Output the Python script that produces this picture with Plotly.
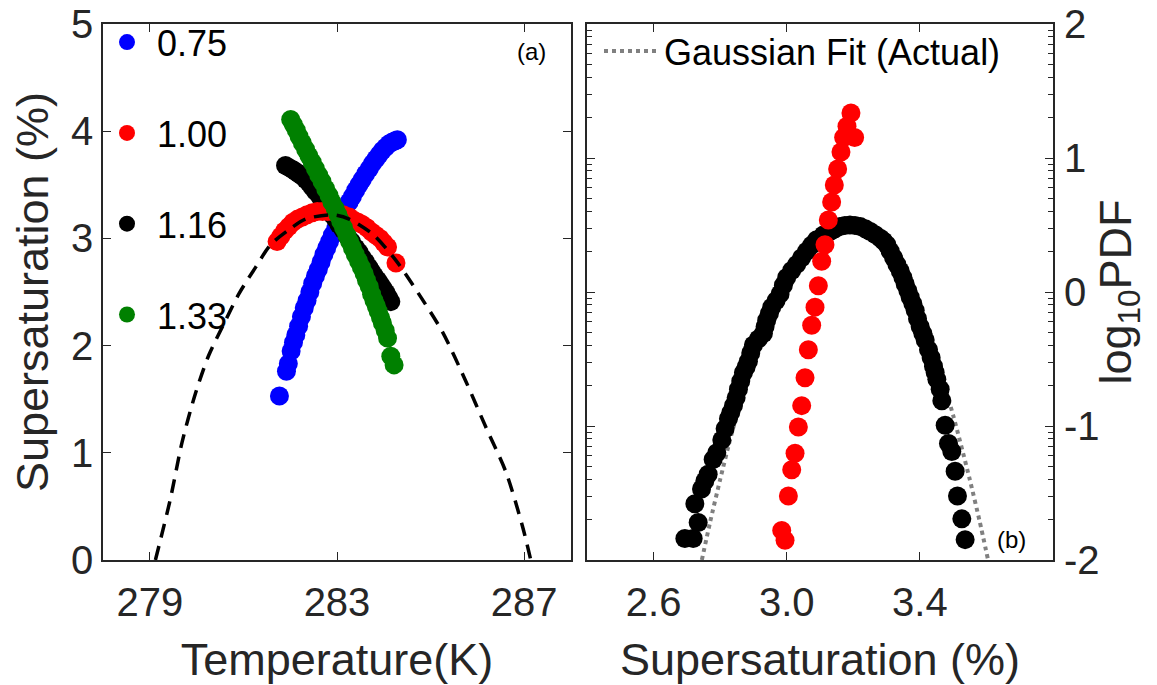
import plotly.graph_objects as go

# ---------------- data: panel (a) ----------------
labels_a = ["0.75", "1.00", "1.16", "1.33"]
colors_a = ["#0000FF", "#FF0000", "#000000", "#008000"]

T_075 = [281.77, 281.92, 281.96, 282.02, 282.07, 282.12, 282.18, 282.24, 282.30, 282.36,
         282.42, 282.48, 282.54, 282.60, 282.66, 282.72, 282.78, 282.84, 282.90, 282.97,
         283.04, 283.11, 283.18, 283.26, 283.33, 283.40, 283.47, 283.54, 283.61, 283.69,
         283.76, 283.83, 283.90, 283.97, 284.04, 284.11, 284.18, 284.24, 284.29]
S_075 = [1.53, 1.76, 1.83, 1.95, 2.03, 2.10, 2.18, 2.27, 2.35, 2.42,
         2.50, 2.58, 2.65, 2.71, 2.78, 2.85, 2.91, 2.97, 3.03, 3.09,
         3.15, 3.21, 3.27, 3.34, 3.39, 3.45, 3.50, 3.55, 3.60, 3.65,
         3.70, 3.74, 3.78, 3.82, 3.85, 3.88, 3.90, 3.91, 3.92]

T_100 = [281.72, 281.80, 281.88, 281.97, 282.06, 282.16, 282.26, 282.36, 282.47, 282.58,
         282.69, 282.80, 282.90, 283.01, 283.13, 283.26, 283.36, 283.45, 283.54, 283.64,
         283.74, 283.83, 283.92, 284.00, 284.08, 284.26]
S_100 = [2.97, 3.02, 3.07, 3.11, 3.15, 3.18, 3.20, 3.22, 3.24, 3.25,
         3.25, 3.25, 3.25, 3.24, 3.22, 3.20, 3.17, 3.15, 3.13, 3.10,
         3.06, 3.03, 3.00, 2.96, 2.92, 2.77]

T_116 = [281.90, 281.98, 282.06, 282.13, 282.19, 282.26, 282.33, 282.40, 282.47, 282.54,
         282.62, 282.69, 282.76, 282.83, 282.90, 282.97, 283.04, 283.13, 283.22, 283.31,
         283.40, 283.47, 283.54, 283.61, 283.68, 283.74, 283.80, 283.87, 283.93, 283.99,
         284.05, 284.10, 284.15]
S_116 = [3.68, 3.66, 3.64, 3.62, 3.60, 3.58, 3.55, 3.52, 3.48, 3.44,
         3.40, 3.36, 3.31, 3.27, 3.22, 3.18, 3.13, 3.08, 3.02, 2.97,
         2.91, 2.87, 2.82, 2.78, 2.73, 2.69, 2.65, 2.61, 2.57, 2.53,
         2.49, 2.45, 2.41]

T_133 = [282.01, 282.07, 282.13, 282.19, 282.26, 282.33, 282.40, 282.47, 282.54, 282.61,
         282.68, 282.76, 282.83, 282.89, 282.96, 283.02, 283.08, 283.14, 283.21, 283.27,
         283.33, 283.39, 283.46, 283.52, 283.58, 283.63, 283.69, 283.74, 283.79, 283.84,
         283.88, 283.93, 283.97, 284.03, 284.08, 284.15, 284.22]
S_133 = [4.11, 4.06, 4.01, 3.95, 3.89, 3.83, 3.77, 3.71, 3.65, 3.59,
         3.53, 3.46, 3.40, 3.34, 3.28, 3.22, 3.16, 3.10, 3.03, 2.97,
         2.91, 2.85, 2.79, 2.73, 2.67, 2.61, 2.55, 2.48, 2.42, 2.37,
         2.32, 2.26, 2.21, 2.14, 2.07, 1.90, 1.82]

T_dash = [279.12, 279.44, 279.69, 279.98, 280.26, 280.58, 280.90, 281.26, 281.58, 281.97,
          282.33, 282.90, 283.26, 283.76, 284.25, 284.75, 285.25, 285.75, 286.18, 286.61,
          286.96, 287.14]
S_dash = [0.00, 0.57, 1.10, 1.56, 1.91, 2.20, 2.48, 2.73, 2.94, 3.08,
          3.18, 3.22, 3.18, 3.04, 2.80, 2.48, 2.13, 1.67, 1.24, 0.82,
          0.32, 0.00]

# ---------------- data: panel (b) ----------------
ss_red = [3.193, 3.181, 3.204, 3.171, 3.163, 3.153, 3.143, 3.135, 3.125, 3.115,
          3.105, 3.095, 3.085, 3.075, 3.065, 3.055, 3.045, 3.035, 3.025, 3.015,
          3.005, 2.985, 2.995]
lp_red = [1.336, 1.237, 1.153, 1.153, 1.045, 0.918, 0.799, 0.671, 0.537, 0.353,
          0.230, 0.046, -0.113, -0.248, -0.431, -0.640, -0.848, -1.007, -1.204, -1.326,
          -1.522, -1.779, -1.853]

ss_blk = [2.694, 2.719, 2.734, 2.724, 2.744, 2.754, 2.764, 2.779, 2.790, 2.805,
          2.815, 2.825, 2.832, 2.840, 2.848, 2.855, 2.862, 2.870, 2.878, 2.885,
          2.892, 2.900, 2.915, 2.930, 2.935, 2.940, 2.948, 2.955, 2.968, 2.980,
          2.990, 3.000, 3.015, 3.030, 3.045, 3.060, 3.075, 3.090, 3.110, 3.130,
          3.145, 3.160, 3.175, 3.190, 3.205, 3.221, 3.236, 3.251, 3.266, 3.281,
          3.291, 3.301, 3.311, 3.321, 3.331, 3.341, 3.349, 3.356, 3.364, 3.371,
          3.379, 3.386, 3.393, 3.401, 3.409, 3.416, 3.426, 3.434, 3.441, 3.446,
          3.451, 3.461, 3.466, 3.476, 3.486, 3.496, 3.506, 3.513, 3.526, 3.536]
lp_blk = [-1.84, -1.84, -1.72, -1.58, -1.47, -1.41, -1.36, -1.25, -1.20, -1.105,
          -1.02, -0.946, -0.90, -0.848, -0.79, -0.726, -0.665, -0.603, -0.56, -0.517,
          -0.455, -0.395, -0.35, -0.309, -0.26, -0.211, -0.16, -0.113, -0.065, -0.015,
          0.05, 0.108, 0.16, 0.206, 0.256, 0.304, 0.35, 0.390, 0.425, 0.451,
          0.472, 0.488, 0.497, 0.500, 0.497, 0.488, 0.472, 0.451, 0.428, 0.402,
          0.38, 0.353, 0.305, 0.255, 0.205, 0.157, 0.108, 0.059, 0.01, -0.039,
          -0.088, -0.137, -0.20, -0.260, -0.31, -0.358, -0.431, -0.49, -0.554, -0.60,
          -0.652, -0.726, -0.811, -0.995, -1.130, -1.191, -1.338, -1.522, -1.693, -1.848]

ss_fit = [2.745, 2.77, 2.80, 2.83, 2.86, 2.90, 2.95, 3.00, 3.05, 3.10, 3.15,
          3.20, 3.25, 3.30, 3.35, 3.40, 3.45, 3.50, 3.55, 3.58, 3.605]
lp_fit = [-2.00, -1.715, -1.40, -1.10, -0.83, -0.51, -0.17, 0.10, 0.30, 0.44, 0.51,
          0.51, 0.44, 0.30, 0.10, -0.17, -0.51, -0.92, -1.40, -1.715, -2.00]

# ---------------- figure ----------------
FONT = "Liberation Sans, Arial, Helvetica, sans-serif"
AX = "#262626"
W, H = 1157, 685
ML, MR, MT, MB = 103, 104, 16, 125
PW = W - ML - MR
PH = H - MT - MB


def px_x(p):
    return (p - ML) / PW


def px_y(p):
    return 1 - (p - MT) / PH


fig = go.Figure()

series_a = [(T_075, S_075), (T_100, S_100), (T_116, S_116), (T_133, S_133)]
draw_order = [0, 2, 1, 3]
for i in draw_order:
    t, s = series_a[i]
    fig.add_trace(go.Scatter(
        x=t, y=s, mode="markers", name=labels_a[i],
        marker=dict(size=19, color=colors_a[i], line=dict(width=0)),
        xaxis="x", yaxis="y", legend="legend", legendgroup=labels_a[i],
        legendrank=i + 1,
    ))

fig.add_trace(go.Scatter(
    x=T_dash, y=S_dash, mode="lines",
    line=dict(color="black", width=3.5, dash="14px,9px", shape="spline", smoothing=0.8),
    showlegend=False, xaxis="x", yaxis="y",
))

# panel (b): log-scaled PDF axis (y2) with a linear log10 label axis (y3) overlaid
fig.add_trace(go.Scatter(
    x=ss_fit, y=[10 ** v for v in lp_fit], mode="lines", name="Gaussian Fit (Actual)",
    line=dict(color="#808080", width=4, dash="dot", shape="spline", smoothing=0.6),
    xaxis="x2", yaxis="y2", legend="legend2",
))
fig.add_trace(go.Scatter(
    x=ss_blk, y=[10 ** v for v in lp_blk], mode="markers", marker=dict(size=19, color="black"),
    showlegend=False, xaxis="x2", yaxis="y2",
))
fig.add_trace(go.Scatter(
    x=ss_red, y=lp_red, mode="markers", marker=dict(size=19, color="#FF0000"),
    showlegend=False, xaxis="x2", yaxis="y3",
))

axis_common = dict(showline=True, linecolor=AX, linewidth=1.6, ticks="inside",
                   tickcolor=AX, tickwidth=1.4, ticklen=8, mirror="ticks",
                   showgrid=False, zeroline=False, automargin=False,
                   ticklabeloverflow="allow",
                   tickfont=dict(family=FONT, size=40, color=AX))

fig.update_layout(
    width=W, height=H, autosize=False,
    margin=dict(l=ML, r=MR, t=MT, b=MB, pad=0),
    paper_bgcolor="white", plot_bgcolor="white",
    font=dict(family=FONT, color=AX),
    xaxis=dict(domain=[0, px_x(571)], range=[278, 288], tickvals=[279, 283, 287],
               ticklabelstandoff=6,
               title=dict(text="Temperature(K)", font=dict(size=45, color=AX), standoff=22),
               anchor="y", **axis_common),
    yaxis=dict(domain=[0, 1], range=[0, 5], tickvals=[0, 1, 2, 3, 4, 5],
               title=dict(text="Supersaturation (%)", font=dict(size=45, color=AX), standoff=8),
               anchor="x", **axis_common),
    xaxis2=dict(domain=[px_x(587), 1], range=[2.4, 3.8], tickvals=[2.6, 3.0, 3.4],
                ticktext=["2.6", "3.0", "3.4"], ticklabelstandoff=6,
                title=dict(text="Supersaturation (%)", font=dict(size=45, color=AX), standoff=22),
                anchor="y2", **axis_common),
    yaxis2=dict(domain=[0, 1], type="log", range=[-2, 2], anchor="x2",
                showline=True, linecolor=AX, linewidth=1.6, ticks="inside",
                tickcolor=AX, tickwidth=1.4, ticklen=8, mirror="allticks",
                showticklabels=False, showgrid=False, zeroline=False, dtick=1,
                automargin=False,
                minor=dict(ticks="inside", ticklen=5, tickcolor=AX, tickwidth=1.2,
                           dtick="D1", showgrid=False)),
    yaxis3=dict(domain=[0, 1], range=[-2, 2], overlaying="y2", side="right", anchor="x2",
                tickvals=[-2, -1, 0, 1, 2], ticktext=["-2", "-1", "0", "1", "2"],
                showline=False, ticks="", showgrid=False, zeroline=False,
                automargin=False, ticklabeloverflow="allow", ticklabelstandoff=10,
                tickfont=dict(family=FONT, size=40, color=AX),
                title=dict(text="log<sub>10</sub>PDF", font=dict(size=45, color=AX), standoff=0)),
    legend=dict(x=px_x(97), y=px_y(4), xanchor="left", yanchor="top",
                bgcolor="rgba(0,0,0,0)", borderwidth=0,
                font=dict(family=FONT, size=36, color="black"),
                tracegroupgap=41, itemsizing="trace", traceorder="grouped",
                itemwidth=50),
    legend2=dict(x=px_x(599), y=px_y(13), xanchor="left", yanchor="top",
                 bgcolor="rgba(0,0,0,0)", borderwidth=0, itemwidth=55,
                 font=dict(family=FONT, size=36, color="black")),
    annotations=[
        dict(text="(a)", x=px_x(531), y=px_y(44), xref="paper", yref="paper",
             xanchor="center", yanchor="middle",
             showarrow=False, font=dict(family=FONT, size=24, color="black")),
        dict(text="(b)", x=px_x(1011), y=px_y(539), xref="paper", yref="paper",
             xanchor="center", yanchor="middle",
             showarrow=False, font=dict(family=FONT, size=24, color="black")),
    ],
)

fig.write_html("out.html", config={"displayModeBar": False},
               post_script="document.body.style.margin='0';")
